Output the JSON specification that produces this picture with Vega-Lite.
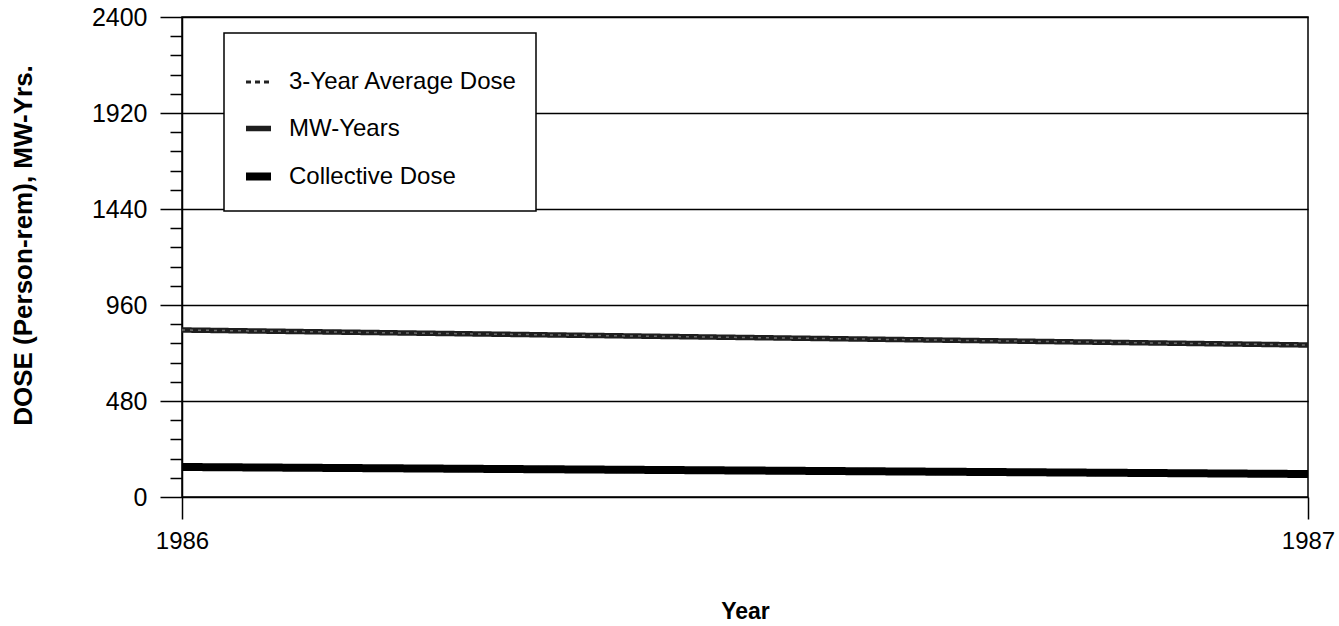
{
  "$schema": "https://vega.github.io/schema/vega-lite/v6.json",
  "width": 1126,
  "height": 480,
  "autosize": {"type": "none"},
  "padding": {"left": 182, "top": 17, "right": 31, "bottom": 129},
  "background": "white",
  "config": {
    "font": "Liberation Sans",
    "view": {"stroke": "black", "strokeWidth": 1.5}
  },
  "data": {
    "values": [
      {"year": 1986, "value": 148, "series": "3-Year Average Dose"},
      {"year": 1987, "value": 117, "series": "3-Year Average Dose"},
      {"year": 1986, "value": 835, "series": "MW-Years"},
      {"year": 1987, "value": 760, "series": "MW-Years"},
      {"year": 1986, "value": 150, "series": "Collective Dose"},
      {"year": 1987, "value": 115, "series": "Collective Dose"}
    ]
  },
  "layer": [
    {
      "mark": {"type": "line", "strokeCap": "butt"},
      "encoding": {
        "x": {
          "field": "year",
          "type": "quantitative",
          "scale": {"domain": [1986, 1987], "nice": false, "zero": false},
          "axis": {
            "values": [1986, 1987],
            "format": "d",
            "grid": false,
            "domain": false,
            "tickSize": 22,
            "tickWidth": 1.5,
            "tickColor": "black",
            "labelFontSize": 24,
            "labelColor": "black",
            "labelPadding": 10,
            "labelFlush": false,
            "title": "Year",
            "titleFontSize": 23,
            "titleFontWeight": "bold",
            "titleColor": "black",
            "titleY": 114,
            "titleBaseline": "middle"
          }
        },
        "y": {
          "field": "value",
          "type": "quantitative",
          "scale": {"domain": [0, 2400], "nice": false},
          "axis": {
            "values": [0, 96, 192, 288, 384, 480, 576, 672, 768, 864, 960, 1056, 1152, 1248, 1344, 1440, 1536, 1632, 1728, 1824, 1920, 2016, 2112, 2208, 2304, 2400],
            "tickCount": 40,
            "labelExpr": "datum.value % 480 === 0 ? datum.label : ''",
            "labelOverlap": false,
            "format": "d",
            "grid": true,
            "gridColor": "black",
            "gridWidth": 1.5,
            "gridOpacity": {"condition": {"test": "datum.value % 480 === 0", "value": 1}, "value": 0},
            "tickSize": {"condition": {"test": "datum.value % 480 === 0", "value": 22}, "value": 12},
            "tickWidth": 1.5,
            "tickColor": "black",
            "domain": true,
            "domainColor": "black",
            "domainWidth": 1.5,
            "labelFontSize": 25,
            "labelColor": "black",
            "labelPadding": 13,
            "labelFlush": false,
            "title": "DOSE (Person-rem), MW-Yrs.",
            "titleFontSize": 26,
            "titleFontWeight": "bold",
            "titleColor": "black",
            "titleAngle": -90,
            "titleX": -159,
            "titleY": 228,
            "titleAlign": "center",
            "titleBaseline": "middle"
          }
        },
        "color": {
          "field": "series",
          "type": "nominal",
          "scale": {"domain": ["3-Year Average Dose", "MW-Years", "Collective Dose"], "range": ["#222222", "#1e1e1e", "#000000"]},
          "legend": {
            "orient": "none",
            "legendX": 42,
            "legendY": 16,
            "title": " ",
            "titleFontSize": 10,
            "titlePadding": 7,
            "padding": 18,
            "fillColor": "white",
            "strokeColor": "black",
            "labelFontSize": 24,
            "labelLimit": 400,
            "labelColor": "black",
            "labelOffset": 14,
            "rowPadding": 19,
            "symbolType": "stroke",
            "symbolSize": 625,
            "encode": {"legend": {"update": {"strokeWidth": {"value": 1.5}}}}
          }
        },
        "strokeDash": {
          "field": "series",
          "type": "nominal",
          "scale": {"domain": ["3-Year Average Dose", "MW-Years", "Collective Dose"], "range": [[5, 4], [1, 0], [1, 0]]}
        },
        "strokeWidth": {
          "field": "series",
          "type": "nominal",
          "scale": {"domain": ["3-Year Average Dose", "MW-Years", "Collective Dose"], "range": [3, 8, 8]}
        }
      }
    },
    {
      "transform": [{"filter": "datum.series === 'MW-Years'"}],
      "mark": {"type": "line", "color": "white", "strokeWidth": 1.5, "strokeDash": [3, 5], "opacity": 0.35},
      "encoding": {
        "x": {"field": "year", "type": "quantitative"},
        "y": {"field": "value", "type": "quantitative"}
      }
    }
  ]
}
